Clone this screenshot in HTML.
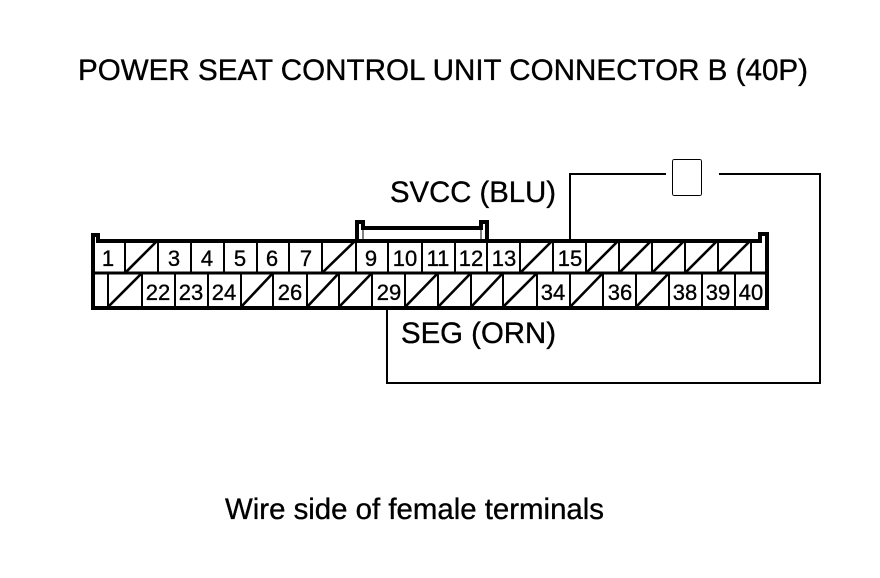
<!DOCTYPE html>
<html><head><meta charset="utf-8"><style>html,body{margin:0;padding:0;background:#fff}svg{display:block}text{font-family:"Liberation Sans",sans-serif;fill:#000;stroke:#000;stroke-width:.35px}.n{font-size:22px;text-anchor:middle}</style></head><body>
<svg width="880" height="578" viewBox="0 0 880 578" xmlns="http://www.w3.org/2000/svg">
<text x="78" y="80" font-size="30" textLength="730" lengthAdjust="spacingAndGlyphs">POWER SEAT CONTROL UNIT CONNECTOR B (40P)</text>
<text x="390" y="202" font-size="30" textLength="166" lengthAdjust="spacingAndGlyphs">SVCC (BLU)</text>
<text x="401" y="343" font-size="30" textLength="155" lengthAdjust="spacingAndGlyphs">SEG (ORN)</text>
<text x="225" y="519" font-size="30" textLength="379" lengthAdjust="spacingAndGlyphs">Wire side of female terminals</text>
<g fill="none" stroke="#000" stroke-width="2" shape-rendering="crispEdges">
<path d="M570 240V174H666M719 174H820V383H387V307"/>
<rect x="672.5" y="159.5" width="29" height="36" rx="2" stroke-width="1"/>
<path d="M363 228V240M481 228V240" stroke-width="1"/>
</g>
<g fill="none" stroke="#000" stroke-width="4" shape-rendering="crispEdges">
<path d="M93 308V235H98V241H760V234H767V308H93Z"/>
<path d="M93 273H767" stroke-width="3"/>
<path d="M357 240V222H363V228H481V222H487V240"/>
</g>
<g stroke="#000" stroke-width="2" shape-rendering="crispEdges">
<path d="M125 240V273M158 240V273M191 240V273M224 240V273M257 240V273M289 240V273M322 240V273M356 240V273M388 240V273M422 240V273M455 240V273M487 240V273M520 240V273M553 240V273M586 240V273M619 240V273M652 240V273M685 240V273M718 240V273M751 240V273"/>
<path d="M108 273V307M142 273V307M175 273V307M208 273V307M241 273V307M273 273V307M307 273V307M339 273V307M372 273V307M405 273V307M438 273V307M471 273V307M503 273V307M537 273V307M570 273V307M603 273V307M636 273V307M669 273V307M702 273V307M735 273V307"/>
</g>
<g stroke="#000" stroke-width="2.6" fill="none">
<path d="M125 273L158 240M322 273L356 240M520 273L553 240M586 273L619 240M619 273L652 240M652 273L685 240M685 273L718 240M718 273L751 240"/>
<path d="M108 307L142 273M241 307L273 273M307 307L339 273M339 307L372 273M405 307L438 273M438 307L471 273M471 307L503 273M503 307L537 273M570 307L603 273M636 307L669 273"/>
</g>
<g>
<text class="n" x="108" y="266">1</text>
<text class="n" x="174" y="266">3</text>
<text class="n" x="207" y="266">4</text>
<text class="n" x="240" y="266">5</text>
<text class="n" x="272" y="266">6</text>
<text class="n" x="306" y="266">7</text>
<text class="n" x="371" y="266">9</text>
<text class="n" x="405" y="266">10</text>
<text class="n" x="438" y="266">11</text>
<text class="n" x="471" y="266">12</text>
<text class="n" x="504" y="266">13</text>
<text class="n" x="570" y="266">15</text>
<text class="n" x="158" y="300">22</text>
<text class="n" x="191" y="300">23</text>
<text class="n" x="224" y="300">24</text>
<text class="n" x="290" y="300">26</text>
<text class="n" x="389" y="300">29</text>
<text class="n" x="553" y="300">34</text>
<text class="n" x="620" y="300">36</text>
<text class="n" x="685" y="300">38</text>
<text class="n" x="718" y="300">39</text>
<text class="n" x="751" y="300">40</text>
</g>
</svg>
</body></html>
